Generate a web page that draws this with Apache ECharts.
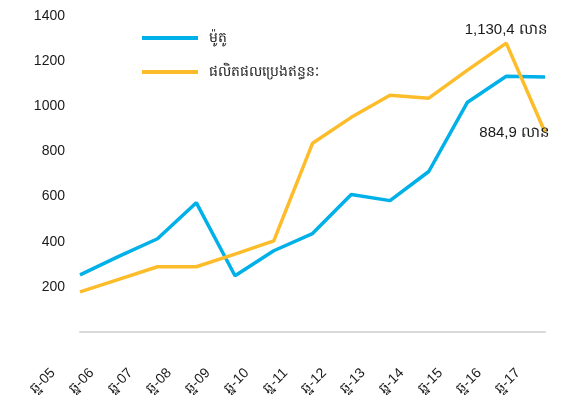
<!DOCTYPE html>
<html>
<head>
<meta charset="utf-8">
<script src="https://cdn.jsdelivr.net/npm/echarts@6/dist/echarts.min.js"></script>
<style>
  html, body { margin: 0; padding: 0; background: #fff; }
  #chart { width: 573px; height: 406px; }
</style>
</head>
<body>
<div id="chart"></div>
<script>
const categories = ['ឆ្ន-05', 'ឆ្ន-06', 'ឆ្ន-07', 'ឆ្ន-08', 'ឆ្ន-09', 'ឆ្ន-10', 'ឆ្ន-11',
  'ឆ្ន-12', 'ឆ្ន-13', 'ឆ្ន-14', 'ឆ្ន-15', 'ឆ្ន-16', 'ឆ្ន-17'];
const seriesNames = ['ម៉ូតូ', 'ផលិតផលប្រេងឥន្ធនៈ'];
const motoValues = [253, 335, 413, 573, 249, 360, 436, 609, 582, 711, 1018, 1133, 1130];
const fuelValues = [178, 233, 289, 289, 345, 404, 836, 951, 1049, 1036, 1160, 1280, 885];
const yTicks = [200, 400, 600, 800, 1000, 1200, 1400];
// callouts: [series index, category index, text, position]
const callouts = [[1, 11, '1,130,4 លាន', 'top'], [1, 12, '884,9 លាន', 'left']];

const font = 'Liberation Sans, Arial, sans-serif';
const colors = ['#00B0E8', '#FDBD2B'];

function calloutPoints(values, si) {
  return callouts.filter((c) => c[0] === si).map((c) => ({
    coord: [c[1], values[c[1]]],
    label: {
      show: true,
      formatter: c[2],
      position: c[3],
      distance: c[3] === 'top' ? 6 : 0,
      offset: c[3] === 'left' ? [5, 1] : [0, 0],
      color: '#1a1a1a',
      fontSize: 15,
      fontFamily: font,
    },
  }));
}

const chart = echarts.init(document.getElementById('chart'));
chart.setOption({
  animation: false,
  color: colors,
  grid: { left: 80, right: 28, top: 16, bottom: 74 },
  legend: {
    orient: 'vertical',
    left: 137,
    top: 26,
    itemWidth: 56,
    itemHeight: 4,
    itemGap: 20,
    textStyle: { fontSize: 14, color: '#1a1a1a', fontFamily: font, padding: [0, 0, 0, 6] },
    data: seriesNames.map((name) => ({ name, icon: 'rect' })),
  },
  xAxis: {
    type: 'category',
    boundaryGap: false,
    data: categories,
    axisLine: { lineStyle: { color: '#d9d9d9', width: 2 } },
    axisTick: { show: false },
    axisLabel: {
      rotate: 45,
      interval: 0,
      fontSize: 14,
      color: '#1a1a1a',
      fontFamily: font,
      margin: 12,
      padding: [0, 38, 0, 0],
    },
  },
  yAxis: {
    type: 'value',
    min: 0,
    max: 1400,
    interval: 200,
    axisLine: { show: false },
    axisTick: { show: false },
    splitLine: { show: false },
    axisLabel: {
      fontSize: 14,
      color: '#1a1a1a',
      fontFamily: font,
      margin: 15,
      formatter: (v) => (yTicks.includes(v) ? String(v) : ''),
    },
  },
  series: seriesNames.map((name, si) => {
    const values = si === 0 ? motoValues : fuelValues;
    return {
      name,
      type: 'line',
      symbol: 'none',
      lineStyle: { width: 3.5, color: colors[si] },
      itemStyle: { color: colors[si] },
      data: values,
      markPoint: {
        symbol: 'circle',
        symbolSize: 0,
        data: calloutPoints(values, si),
      },
    };
  }),
});
</script>
</body>
</html>
